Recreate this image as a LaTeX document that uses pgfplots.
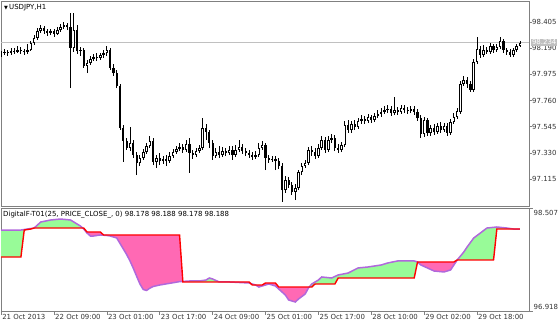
\documentclass[border=0pt]{standalone}
\usepackage{pgfplots}
\pgfplotsset{compat=1.18}
\usepackage{pgfplotstable}
\usepackage{fontspec}
\setmainfont{DejaVu Sans}
\definecolor{pgreen}{HTML}{98FB98}
\definecolor{ppink}{HTML}{FF69B4}
\definecolor{purp}{HTML}{B068DC}
\definecolor{bidgrey}{HTML}{C0C0C0}
\definecolor{frame}{HTML}{808080}

\pgfplotstableread{
i o h l c
0 98.143 98.167 98.118 98.151
1 98.151 98.184 98.134 98.159
2 98.159 98.175 98.126 98.151
3 98.151 98.192 98.134 98.167
4 98.167 98.192 98.143 98.159
5 98.159 98.208 98.151 98.175
6 98.175 98.200 98.143 98.167
7 98.167 98.184 98.134 98.159
8 98.159 98.224 98.143 98.175
9 98.175 98.249 98.167 98.233
10 98.233 98.298 98.216 98.274
11 98.274 98.356 98.257 98.331
12 98.331 98.380 98.315 98.356
13 98.356 98.372 98.307 98.331
14 98.331 98.348 98.290 98.315
15 98.315 98.348 98.298 98.331
16 98.331 98.348 98.282 98.307
17 98.307 98.364 98.298 98.339
18 98.339 98.389 98.323 98.364
19 98.364 98.405 98.348 98.380
20 98.380 98.397 98.339 98.364
21 98.364 98.479 97.863 98.192
22 98.192 98.479 98.159 98.339
23 98.339 98.380 98.143 98.167
24 98.167 98.200 98.126 98.175
25 98.175 98.192 98.028 98.044
26 98.044 98.093 97.986 98.069
27 98.069 98.126 98.052 98.101
28 98.101 98.143 98.085 98.118
29 98.118 98.151 98.085 98.110
30 98.110 98.151 98.093 98.134
31 98.134 98.175 98.110 98.151
32 98.151 98.208 98.126 98.175
33 98.175 98.192 98.011 98.028
34 98.028 98.060 97.962 97.986
35 97.986 98.011 97.863 97.880
36 97.880 97.896 97.519 97.535
37 97.535 97.560 97.256 97.429
38 97.429 97.453 97.355 97.371
39 97.371 97.544 97.346 97.412
40 97.412 97.437 97.289 97.314
41 97.314 97.338 97.149 97.248
42 97.248 97.314 97.223 97.289
43 97.289 97.363 97.273 97.338
44 97.338 97.412 97.322 97.388
45 97.388 97.470 97.371 97.429
46 97.429 97.453 97.231 97.256
47 97.256 97.314 97.207 97.289
48 97.289 97.330 97.231 97.264
49 97.264 97.305 97.240 97.281
50 97.281 97.314 97.223 97.264
51 97.264 97.338 97.248 97.305
52 97.305 97.363 97.289 97.338
53 97.338 97.388 97.322 97.363
54 97.363 97.412 97.346 97.379
55 97.379 97.404 97.330 97.355
56 97.355 97.437 97.338 97.404
57 97.404 97.453 97.166 97.330
58 97.330 97.355 97.281 97.314
59 97.314 97.371 97.297 97.346
60 97.346 97.396 97.330 97.371
61 97.371 97.617 97.355 97.535
62 97.535 97.568 97.437 97.502
63 97.502 97.519 97.371 97.412
64 97.412 97.437 97.273 97.305
65 97.305 97.371 97.289 97.338
66 97.338 97.388 97.289 97.314
67 97.314 97.379 97.297 97.346
68 97.346 97.371 97.305 97.330
69 97.330 97.388 97.314 97.355
70 97.355 97.388 97.273 97.314
71 97.314 97.396 97.297 97.355
72 97.355 97.437 97.338 97.379
73 97.379 97.404 97.322 97.346
74 97.346 97.371 97.305 97.330
75 97.330 97.355 97.289 97.314
76 97.314 97.338 97.273 97.297
77 97.297 97.346 97.281 97.314
78 97.314 97.412 97.297 97.371
79 97.371 97.429 97.355 97.396
80 97.396 97.412 97.190 97.289
81 97.289 97.314 97.248 97.273
82 97.273 97.305 97.256 97.281
83 97.281 97.305 97.190 97.264
84 97.264 97.289 97.199 97.223
85 97.223 97.248 96.928 97.026
86 97.026 97.141 97.002 97.108
87 97.108 97.133 97.043 97.067
88 97.067 97.092 96.985 97.010
89 97.010 97.076 96.944 97.043
90 97.043 97.190 97.026 97.174
91 97.174 97.248 97.149 97.223
92 97.223 97.273 97.207 97.248
93 97.248 97.379 97.231 97.355
94 97.355 97.388 97.305 97.338
95 97.338 97.371 97.281 97.305
96 97.305 97.404 97.289 97.371
97 97.371 97.470 97.355 97.437
98 97.437 97.461 97.330 97.355
99 97.355 97.470 97.338 97.437
100 97.437 97.486 97.412 97.453
101 97.453 97.478 97.346 97.371
102 97.371 97.404 97.330 97.355
103 97.355 97.420 97.338 97.396
104 97.396 97.593 97.379 97.560
105 97.560 97.601 97.494 97.519
106 97.519 97.593 97.494 97.568
107 97.568 97.601 97.519 97.544
108 97.544 97.617 97.527 97.593
109 97.593 97.642 97.568 97.609
110 97.609 97.634 97.568 97.593
111 97.593 97.650 97.576 97.626
112 97.626 97.642 97.576 97.601
113 97.601 97.658 97.584 97.634
114 97.634 97.683 97.617 97.650
115 97.650 97.699 97.626 97.667
116 97.667 97.716 97.650 97.683
117 97.683 97.724 97.658 97.691
118 97.691 97.716 97.634 97.658
119 97.658 97.790 97.642 97.683
120 97.683 97.708 97.642 97.667
121 97.667 97.724 97.650 97.699
122 97.699 97.724 97.658 97.683
123 97.683 97.708 97.650 97.675
124 97.675 97.716 97.658 97.691
125 97.691 97.716 97.642 97.667
126 97.667 97.691 97.593 97.617
127 97.617 97.642 97.453 97.486
128 97.486 97.626 97.461 97.601
129 97.601 97.617 97.470 97.494
130 97.494 97.560 97.470 97.535
131 97.535 97.568 97.478 97.502
132 97.502 97.576 97.486 97.552
133 97.552 97.584 97.494 97.519
134 97.519 97.576 97.502 97.552
135 97.552 97.576 97.470 97.494
136 97.494 97.609 97.478 97.584
137 97.584 97.658 97.568 97.626
138 97.626 97.699 97.609 97.675
139 97.667 97.921 97.650 97.896
140 97.896 97.962 97.880 97.929
141 97.929 97.954 97.863 97.896
142 97.896 97.921 97.831 97.847
143 97.847 98.101 97.831 98.077
144 98.077 98.282 98.060 98.184
145 98.184 98.208 98.110 98.134
146 98.134 98.216 98.118 98.175
147 98.175 98.200 98.143 98.159
148 98.159 98.233 98.143 98.208
149 98.208 98.224 98.151 98.175
150 98.175 98.224 98.159 98.200
151 98.200 98.282 98.184 98.249
152 98.249 98.266 98.151 98.175
153 98.175 98.192 98.134 98.159
154 98.159 98.184 98.118 98.134
155 98.134 98.192 98.118 98.175
156 98.175 98.224 98.159 98.208
157 98.208 98.249 98.200 98.234
}\ohlc

\pgfplotstableread{
i v
0 98.167
3 98.167
6 98.167
8 98.183
10 98.198
11 98.245
12 98.291
15 98.322
18 98.337
21 98.322
22 98.291
24 98.229
25 98.183
26 98.121
27 98.075
28 98.075
30 98.091
32 98.083
33 98.075
34 98.060
35 98.044
36 97.959
37 97.873
38 97.789
39 97.690
40 97.578
41 97.455
42 97.335
43 97.250
44 97.235
45 97.270
46 97.296
48 97.319
51 97.345
54 97.371
57 97.381
60 97.381
62 97.396
63 97.427
64 97.412
66 97.366
69 97.366
75 97.350
77 97.319
78 97.288
79 97.304
81 97.335
83 97.304
84 97.257
86 97.165
87 97.088
89 97.057
90 97.103
92 97.180
93 97.273
94 97.335
96 97.396
97 97.443
100 97.427
102 97.474
105 97.504
108 97.582
111 97.597
115 97.628
117 97.659
120 97.690
125 97.690
126 97.674
127 97.628
129 97.582
131 97.535
134 97.520
136 97.551
137 97.628
138 97.705
140 97.828
141 97.905
143 98.044
145 98.121
147 98.198
150 98.214
153 98.198
155 98.183
157 98.183
}\Pline

\pgfplotstableread{
i v
0 97.751
6 97.751
7 98.167
9 98.183
10 98.198
25 98.198
26 98.137
30 98.137
31 98.091
54 98.091
55 97.366
75 97.366
76 97.319
79 97.319
80 97.350
83 97.350
84 97.288
94 97.288
95 97.335
101 97.335
102 97.427
125 97.427
126 97.674
137 97.674
138 97.705
149 97.705
150 98.183
157 98.183
}\Rline

\begin{document}
\begin{tikzpicture}[font=\fontsize{7}{8}\selectfont]
\path[use as bounding box] (0,0) rectangle (560bp,326bp);

\begin{axis}[name=upper, at={(1bp,120bp)}, anchor=south west,
  scale only axis, width=528bp, height=205bp,
  xmin=-0.03, xmax=159.73, ymin=96.895, ymax=98.577,
  xtick=\empty,
  ytick={97.115,97.330,97.545,97.760,97.975,98.190,98.405},
  yticklabels={97.115,97.330,97.545,97.760,97.975,98.190,98.405},
  ytick pos=right, yticklabel pos=right, tick align=outside,
  major tick length=3bp,
  yticklabel style={anchor=west, inner sep=0pt, xshift=0bp, text=black!80},
  axis line style={frame, line width=0.8bp}, tick style={frame, line width=0.6bp}]
  \addplot[bidgrey, line width=0.8bp, forget plot] coordinates {(-0.03,98.234) (159.73,98.234)};
  % wicks
  \addplot[draw=none, mark=none, forget plot,
    error bars/.cd, y dir=plus, y explicit, error mark=none,
    error bar style={draw=black, line width=0.9bp}]
    table[x=i, y=l, y error expr=\thisrow{h}-\thisrow{l}] {\ohlc};
  % bear bodies
  \addplot[draw=none, mark=none, forget plot,
    restrict expr to domain={\thisrow{o}-\thisrow{c}}{0.0001:10},
    error bars/.cd, y dir=plus, y explicit, error mark=none,
    error bar style={draw=black, line width=2.2bp}]
    table[x=i, y=c, y error expr=\thisrow{o}-\thisrow{c}] {\ohlc};
  % bull bodies
  \addplot[draw=none, mark=none, forget plot,
    restrict expr to domain={\thisrow{c}-\thisrow{o}}{0.0001:10},
    error bars/.cd, y dir=plus, y explicit, error mark=none,
    error bar style={draw=black, line width=2.6bp}]
    table[x=i, y=o, y error expr=\thisrow{c}-\thisrow{o}] {\ohlc};
  \addplot[draw=none, mark=none, forget plot,
    restrict expr to domain={\thisrow{c}-\thisrow{o}}{0.02:10},
    error bars/.cd, y dir=plus, y explicit, error mark=none,
    error bar style={draw=white, line width=0.9bp}]
    table[x=i, y expr=\thisrow{o}+0.007, y error expr=\thisrow{c}-\thisrow{o}-0.014] {\ohlc};
\end{axis}
\node[anchor=west, fill=bidgrey, text=white, inner sep=0.8bp, minimum height=7bp]
  at (531bp,283.8bp) {98.234};
\node[anchor=north west, inner sep=0pt] at ([xshift=3bp, yshift=-3bp]upper.north west)
  {{\fontsize{5}{5}\selectfont ▼}\,USDJPY,H1};

\begin{axis}[name=lower, at={(1bp,15bp)}, anchor=south west,
  scale only axis, width=528bp, height=103bp,
  xmin=-0.03, xmax=159.73, ymin=96.918, ymax=98.507,
  xtick={0,16,32,48,64,80,96,112,128,144},
  xticklabels={21 Oct 2013,22 Oct 09:00,23 Oct 01:00,23 Oct 17:00,24 Oct 09:00,25 Oct 01:00,25 Oct 17:00,28 Oct 10:00,29 Oct 02:00,29 Oct 18:00},
  xticklabel style={anchor=north west, inner sep=0pt, xshift=1bp, text=black!80},
  xtick pos=bottom, ytick={96.918,98.507}, yticklabels={,},
  ytick pos=right, tick align=outside, major tick length=3.5bp,
  axis line style={frame, line width=0.8bp}, tick style={frame, line width=0.6bp}]
  % green: filter above trigger line; pink: filter below
  \addplot[fill=pgreen, draw=none, forget plot] coordinates {
    (0,98.167) (3,98.167) (6,98.167) (8,98.183) (10,98.198) (11,98.245) (12,98.291)
    (15,98.322) (18,98.337) (21,98.322) (22,98.291) (24,98.229) (24.7,98.197)
    (24.7,98.198) (10,98.198) (9,98.183) (7,98.167) (6,97.751) (0,97.751)};
  \addplot[fill=ppink, draw=none, forget plot] coordinates {
    (24.7,98.197) (25,98.183) (26,98.121) (27,98.075) (28,98.075) (30,98.091) (32,98.083)
    (33,98.075) (34,98.060) (35,98.044) (36,97.959) (37,97.873) (38,97.789) (39,97.690)
    (40,97.578) (41,97.455) (42,97.335) (43,97.250) (44,97.235) (45,97.270) (46,97.296)
    (48,97.319) (51,97.345) (54,97.371) (55,97.374)
    (55,97.366) (54,98.091) (31,98.091) (30,98.137) (26,98.137) (25,98.198) (24.7,98.198)};
  \addplot[fill=pgreen, draw=none, forget plot] coordinates {
    (55,97.374) (57,97.381) (60,97.381) (62,97.396) (63,97.427) (64,97.412) (66,97.366) (69,97.366)
    (69,97.366) (55,97.366)};
  \addplot[fill=ppink, draw=none, forget plot] coordinates {
    (69,97.366) (75,97.350) (77,97.319) (78,97.288) (79,97.304) (81,97.335) (83,97.304)
    (84,97.257) (86,97.165) (87,97.088) (89,97.057) (90,97.103) (92,97.180) (93,97.273) (93.3,97.292)
    (93.3,97.288) (84,97.288) (83,97.350) (80,97.350) (79,97.319) (76,97.319) (75,97.366) (69,97.366)};
  \addplot[fill=pgreen, draw=none, forget plot] coordinates {
    (93.3,97.292) (94,97.335) (96,97.396) (97,97.443) (100,97.427) (102,97.474) (105,97.504)
    (108,97.582) (111,97.597) (115,97.628) (117,97.659) (120,97.690) (125,97.690) (126,97.674)
    (125,97.427) (102,97.427) (101,97.335) (95,97.335) (94,97.288) (93.3,97.288)};
  \addplot[fill=ppink, draw=none, forget plot] coordinates {
    (126,97.674) (127,97.628) (129,97.582) (131,97.535) (134,97.520) (136,97.551) (137,97.628) (138,97.705)
    (137,97.674) (126,97.674)};
  \addplot[fill=pgreen, draw=none, forget plot] coordinates {
    (138,97.705) (140,97.828) (141,97.905) (143,98.044) (145,98.121) (147,98.198) (150,98.214)
    (153,98.198) (155,98.183) (157,98.183)
    (150,98.183) (149,97.705) (138,97.705)};
  \addplot[purp, line width=1.5bp, forget plot] table[x=i, y=v] {\Pline};
  \addplot[red, line width=1.4bp, forget plot] table[x=i, y=v] {\Rline};
\end{axis}

\node[anchor=north west, inner sep=0pt] at ([xshift=2bp, yshift=-3.5bp]lower.north west)
  {DigitalF-T01(25, PRICE\_CLOSE\_, 0) 98.178 98.188 98.178 98.188};
\node[anchor=north west, inner sep=0pt, text=black!80] at ([xshift=4.5bp, yshift=-2.5bp]lower.north east) {98.507};
\node[anchor=south west, inner sep=0pt, text=black!80] at ([xshift=4.5bp, yshift=1.5bp]lower.south east) {96.918};
\end{tikzpicture}
\end{document}
